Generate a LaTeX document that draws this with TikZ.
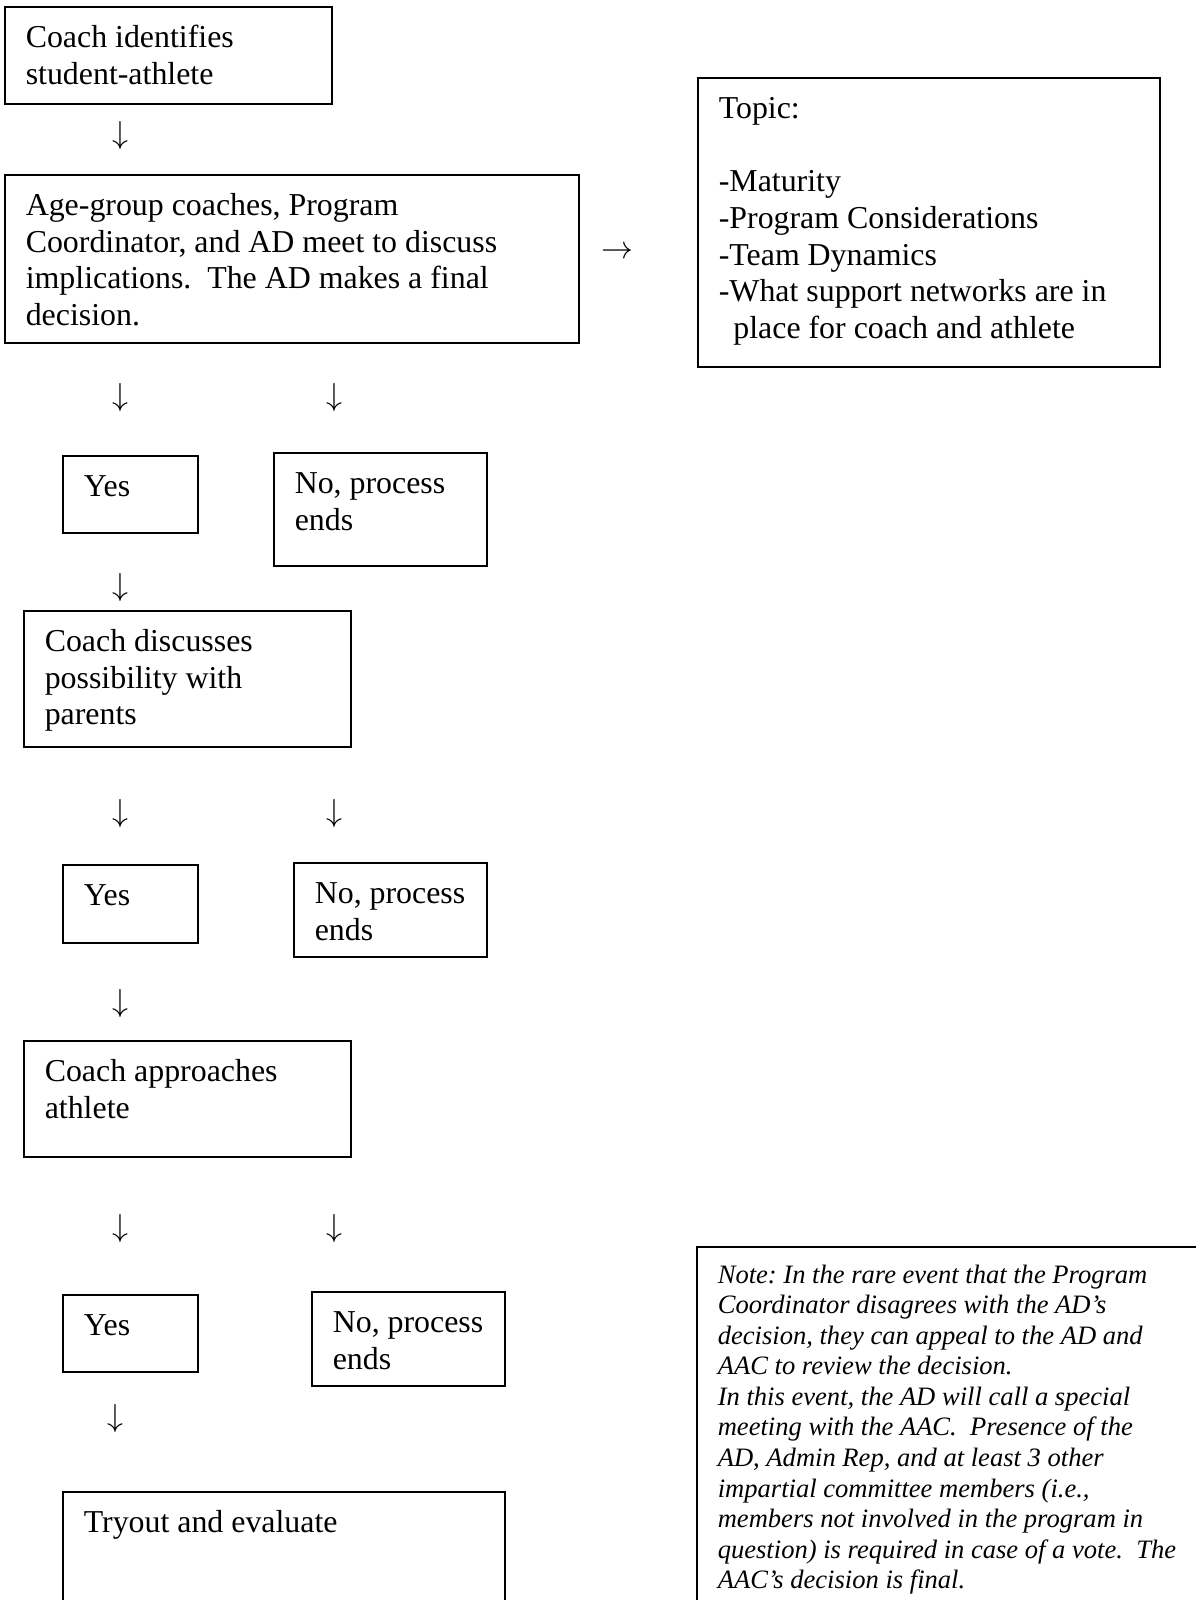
\documentclass[tikz,border=0pt]{standalone}
\usepackage{fontspec}
\setmainfont{Liberation Serif}
\frenchspacing
\newlength{\px}
\setlength{\px}{0.3765pt}
\tikzset{%
		kasten/.style={draw,line width=.6pt,anchor=north west,inner xsep=21\px,inner ysep=15\px,font=\fontsize{12}{13.8}\selectfont},
		notiz/.style={inner ysep=15\px,font=\fontsize{10}{11.5}\selectfont\itshape},
		pfeil/.style={inner sep=0pt,font=\fontsize{12}{13.8}\selectfont}
	}
\newcommand{\kasten}[7][]{
		\node[kasten,#1] (#2) at (#3,#4)
			{\parbox[c][\dimexpr#6\px-30\px\relax][t]{\dimexpr#5\px-42\px\relax}{%
				\begin{tabular}[t]{@{}l@{}}#7\end{tabular}}};
	}
\begin{document}
\begin{tikzpicture}[x=0.3765pt,y=-0.3765pt]
      \useasboundingbox (0,0) rectangle (1195,1600);

      \kasten{ident}{4}{6}{327}{97}{Coach identifies\\ student-athlete}
      \node[pfeil] (p1) at (120,136) {$\downarrow$};
      \kasten{treffen}{4}{174}{574}{168}{Age-group coaches, Program\\ Coordinator, and AD meet to discuss\\ implications.\ \ The AD makes a final\\ decision.}
      \node[pfeil] (p2) at (617,253) {$\rightarrow$};
      \kasten{thema}{697}{77}{462}{289}{Topic:\\[13.8pt] -Maturity\\ -Program Considerations\\ -Team Dynamics\\ -What support networks are in\\ \hspace*{5.5pt}place for coach and athlete}

      \node[pfeil] (p3) at (120,398) {$\downarrow$};
      \node[pfeil] (p4) at (334,398) {$\downarrow$};
      \kasten{ja1}{62}{455}{135}{77}{Yes}
      \kasten{nein1}{273}{452}{213}{113}{No, process\\ ends}
      \node[pfeil] (p5) at (120,588) {$\downarrow$};
      \kasten{eltern}{23}{610}{327}{136}{Coach discusses\\ possibility with\\ parents}

      \node[pfeil] (p6) at (120,814) {$\downarrow$};
      \node[pfeil] (p7) at (334,814) {$\downarrow$};
      \kasten{ja2}{62}{864}{135}{78}{Yes}
      \kasten{nein2}{293}{862}{193}{94}{No, process\\ ends}
      \node[pfeil] (p8) at (120,1004) {$\downarrow$};
      \kasten{athlet}{23}{1040}{327}{116}{Coach approaches\\ athlete}

      \node[pfeil] (p9) at (120,1229) {$\downarrow$};
      \node[pfeil] (p10) at (334,1229) {$\downarrow$};
      \kasten{ja3}{62}{1294}{135}{77}{Yes}
      \kasten{nein3}{311}{1291}{193}{94}{No, process\\ ends}
      \node[pfeil] (p11) at (115,1419) {$\downarrow$};
      \kasten{probe}{62}{1491}{442}{140}{Tryout and evaluate}

      \kasten[notiz]{notiz}{696}{1246}{540}{400}{Note: In the rare event that the Program\\ Coordinator disagrees with the AD's\\ decision, they can appeal to the AD and\\ AAC to review the decision.\\ In this event, the AD will call a special\\ meeting with the AAC.\ \ Presence of the\\ AD, Admin Rep, and at least 3 other\\ impartial committee members (i.e.,\\ members not involved in the program in\\ question) is required in case of a vote.\ \ The\\ AAC's decision is final.}
	\end{tikzpicture}
\end{document}
